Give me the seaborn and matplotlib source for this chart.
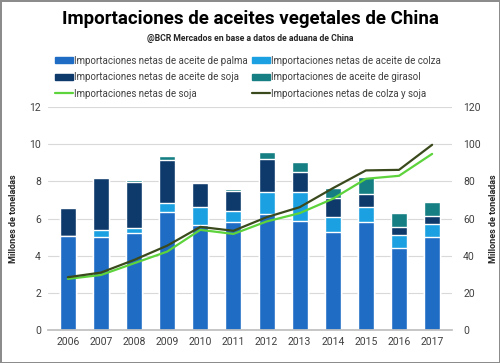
import numpy as np
import pandas as pd
import matplotlib
matplotlib.use('Agg')
import matplotlib.pyplot as plt
import seaborn as sns
from matplotlib.patches import Patch
from matplotlib.lines import Line2D

# Datos (millones de toneladas)
years = ['2006', '2007', '2008', '2009', '2010', '2011',
         '2012', '2013', '2014', '2015', '2016', '2017']
palma = [5.08, 5.03, 5.24, 6.37, 5.66, 5.83, 6.25, 5.89, 5.26, 5.83, 4.40, 5.03]
colza = [0.00, 0.36, 0.27, 0.45, 0.95, 0.58, 1.20, 1.56, 0.81, 0.81, 0.72, 0.66]
soja_aceite = [1.47, 2.78, 2.43, 2.34, 1.29, 1.08, 1.74, 1.08, 1.02, 0.68, 0.45, 0.47]
girasol = [0.06, 0.05, 0.12, 0.18, 0.02, 0.09, 0.38, 0.52, 0.54, 0.94, 0.71, 0.75]
# eje secundario
soja_grano = [27.5, 29.6, 35.9, 42.2, 53.9, 51.7, 58.4, 62.9, 70.6, 81.4, 83.0, 94.8]
colza_soja = [28.4, 30.9, 37.7, 45.4, 55.5, 53.4, 60.7, 66.1, 76.3, 85.9, 86.2, 99.7]

c_palma = '#1f6cc4'
c_colza = '#1ba1e2'
c_soja = '#0d3a6b'
c_gira = '#167f83'
c_verde = '#5dd33c'
c_oscuro = '#3a4a1c'

sns.set_theme(style='white')
plt.rcParams['font.family'] = ['Roboto', 'DejaVu Sans']

df = pd.DataFrame({'year': years, 'palma': palma, 'colza': colza,
                   'soja': soja_aceite, 'girasol': girasol})
df['s1'] = df['palma']
df['s2'] = df['s1'] + df['colza']
df['s3'] = df['s2'] + df['soja']
df['s4'] = df['s3'] + df['girasol']

fig = plt.figure(figsize=(5, 3.63), dpi=100)
fig.patch.set_edgecolor('#8c8c8c')
fig.patch.set_linewidth(2)
ax = fig.add_axes([0.096, 0.091, 0.808, 0.614])

# barras apiladas: se dibuja del total hacia abajo
for col, c in [('s4', c_gira), ('s3', c_soja), ('s2', c_colza), ('s1', c_palma)]:
    sns.barplot(data=df, x='year', y=col, color=c, width=0.48, ax=ax,
                saturation=1, zorder=2)

ax.set_ylim(0, 12)
ax.set_yticks(range(0, 13, 2))
ax.yaxis.grid(True, color='#d9d9d9', linewidth=0.8)
ax.set_axisbelow(True)
ax.set_xlabel('')
ax.set_ylabel('Millones de toneladas', fontsize=6.5, fontweight='bold',
              labelpad=8, color='#262626')
ax.tick_params(axis='both', labelsize=7.5, length=0, pad=5, colors='#404040')
for s in ['top', 'left', 'right']:
    ax.spines[s].set_visible(False)
ax.spines['bottom'].set_color('#bfbfbf')

ax2 = ax.twinx()
x = np.arange(len(years))
sns.lineplot(x=x, y=soja_grano, color=c_verde, linewidth=1.6, ax=ax2)
sns.lineplot(x=x, y=colza_soja, color=c_oscuro, linewidth=1.6, ax=ax2)
ax2.set_ylim(0, 120)
ax2.set_yticks(range(0, 121, 20))
ax2.set_ylabel('Millones de toneladas', fontsize=6.5, fontweight='bold',
               labelpad=6, color='#262626')
ax2.tick_params(axis='y', labelsize=7.5, length=0, pad=8, colors='#404040')
for s in ['top', 'left', 'right', 'bottom']:
    ax2.spines[s].set_visible(False)
ax.set_xlim(-0.6, len(years) - 0.4)

fig.text(0.5, 0.948, 'Importaciones de aceites vegetales de China',
         ha='center', va='center', fontsize=13.5, fontweight='bold', color='black')
fig.text(0.5, 0.893, '@BCR Mercados en base a datos de aduana de China',
         ha='center', va='center', fontsize=6.2, fontweight='bold', color='#262626')

# orden por columnas para que las filas queden como en el original
handles = [Patch(color=c_palma), Patch(color=c_soja),
           Line2D([], [], color=c_verde, linewidth=1.6),
           Patch(color=c_colza), Patch(color=c_gira),
           Line2D([], [], color=c_oscuro, linewidth=1.6)]
labels = ['Importaciones netas de aceite de palma',
          'Importaciones netas de aceite de soja',
          'Importaciones netas de soja',
          'Importaciones netas de aceite de colza',
          'Importaciones de aceite de girasol',
          'Importaciones netas de colza y soja']
fig.legend(handles, labels, ncol=2, loc='upper left', bbox_to_anchor=(0.102, 0.857),
           frameon=False, fontsize=7.0, labelcolor='#404040', handlelength=1.9,
           handleheight=0.55, handletextpad=0.1, columnspacing=0.4,
           labelspacing=0.66, borderaxespad=0)

fig.savefig('out.png', dpi=100)
